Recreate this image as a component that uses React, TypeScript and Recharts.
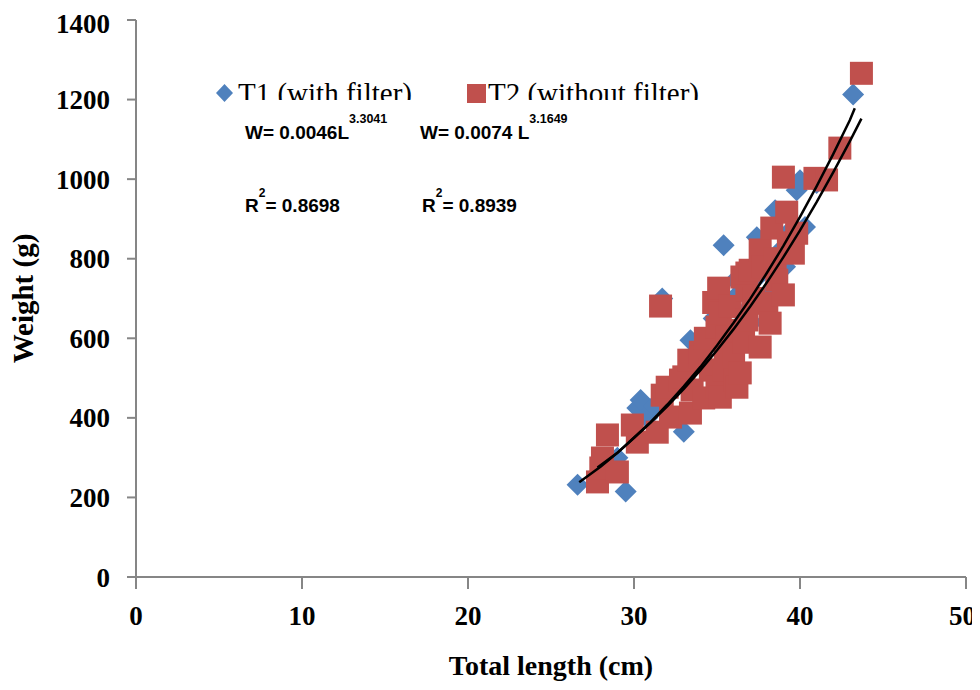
import React from "react";
import { ScatterChart, Scatter, XAxis, YAxis, Legend } from "recharts";

// T1 (with filter) - blue diamonds
const t1Length = [26.6, 29.5, 29.0, 30.2, 30.4, 30.8, 31.2, 31.7, 32.0, 32.5, 33.0, 33.1, 33.4, 33.8, 34.1, 34.5, 34.8, 35.0, 35.2, 35.4, 35.6, 35.8, 36.0, 36.1, 36.5, 36.8, 37.0, 37.4, 37.6, 37.9, 38.0, 38.3, 38.5, 38.8, 39.1, 39.4, 39.8, 40.0, 40.3, 41.0, 43.2];
const t1Weight = [232, 215, 300, 425, 445, 400, 430, 700, 470, 480, 365, 520, 595, 540, 560, 600, 650, 620, 520, 834, 680, 560, 700, 746, 640, 720, 680, 854, 760, 640, 800, 720, 922, 820, 780, 870, 972, 997, 880, 990, 1213];

// T2 (without filter) - red squares
const t2Length = [27.8, 28.0, 28.1, 28.4, 29.0, 29.9, 30.2, 31.4, 31.6, 31.7, 32.0, 32.2, 32.8, 33.0, 33.3, 33.4, 33.5, 34.0, 34.0, 34.2, 34.3, 34.6, 34.8, 35.0, 35.0, 35.1, 35.2, 35.2, 35.4, 35.5, 35.6, 35.8, 36.0, 36.1, 36.2, 36.3, 36.4, 36.5, 36.6, 36.8, 36.8, 36.8, 37.0, 37.2, 37.6, 37.6, 37.8, 38.0, 38.2, 38.3, 38.5, 38.6, 39.0, 39.0, 39.2, 39.3, 39.6, 39.8, 40.9, 41.6, 42.4, 43.7];
const t2Weight = [239, 274, 299, 357, 264, 382, 339, 364, 681, 457, 477, 402, 495, 503, 545, 412, 470, 565, 553, 450, 600, 520, 690, 628, 477, 726, 663, 452, 520, 560, 603, 680, 560, 495, 477, 620, 513, 754, 590, 646, 721, 764, 771, 700, 822, 578, 780, 688, 638, 877, 800, 746, 709, 1005, 917, 840, 814, 864, 1002, 998, 1078, 1266];

// power trend lines
const fit1Length = [26.7, 28, 29, 30, 31, 32, 33, 34, 35, 36, 37, 38, 39, 40, 41, 42, 43, 43.3];
const fit1Weight = [238, 278, 312, 350, 389, 433, 479, 528, 582, 639, 699, 764, 832, 905, 982, 1063, 1148, 1178];
const fit2Length = [27.8, 29, 30, 31, 32, 33, 34, 35, 36, 37, 38, 39, 40, 41, 42, 43, 43.7];
const fit2Weight = [275, 312, 350, 388, 429, 473, 520, 570, 623, 680, 740, 804, 871, 942, 1017, 1095, 1152];

const xTicks = [0, 10, 20, 30, 40, 50];
const yTicks = [0, 200, 400, 600, 800, 1000, 1200, 1400];

const t1 = t1Length.map((x, i) => ({ x, y: t1Weight[i] }));
const t2 = t2Length.map((x, i) => ({ x, y: t2Weight[i] }));
const fit1 = fit1Length.map((x, i) => ({ x, y: fit1Weight[i] }));
const fit2 = fit2Length.map((x, i) => ({ x, y: fit2Weight[i] }));

const BLUE = "#4F81BD";
const RED = "#C0504D";
const AXIS = "#868686";
const serif = "'Liberation Serif', 'Times New Roman', serif";
const sans = "'Liberation Sans', Arial, sans-serif";

const Diamond = (p: any) => (
  <polygon
    points={`${p.cx},${p.cy - 11} ${p.cx + 11},${p.cy} ${p.cx},${p.cy + 11} ${p.cx - 11},${p.cy}`}
    fill={BLUE}
  />
);

const Square = (p: any) => <rect x={p.cx - 11.5} y={p.cy - 11.5} width={23} height={23} fill={RED} />;

const NoDot = () => <g />;

// x tick labels; the last one is pulled in so it stays inside the page
const XTick = (p: any) => {
  const v = p.payload.value;
  const last = v === xTicks[xTicks.length - 1];
  return (
    <text
      x={last ? p.x + 10 : p.x}
      y={p.y}
      textAnchor={last ? "end" : "middle"}
      dy="0.71em"
      fill="#000"
      fontFamily={serif}
      fontWeight="bold"
      fontSize={27}
    >
      {v}
    </text>
  );
};

// legend as in the source figure: text clipped by the box bottom
const renderLegend = () => (
  <svg width={972} height={110} style={{ display: "block" }}>
    <defs>
      <clipPath id="legclip">
        <rect x={0} y={0} width={972} height={92} />
      </clipPath>
    </defs>
    <polygon points="216.5,76 225,85 216.5,94 208,85" fill={BLUE} />
    <rect x={459} y={76} width={19} height={19} fill={RED} />
    <g clipPath="url(#legclip)" fontFamily={serif} fontSize={29} fill="#000">
      <text x={230} y={95}>T1 (with filter)</text>
      <text x={480} y={95}>T2 (without filter)</text>
    </g>
  </svg>
);

const Equations = () => (
  <svg
    width={972}
    height={240}
    style={{ position: "absolute", left: 0, top: 0, pointerEvents: "none" }}
    fontFamily={sans}
    fontWeight="bold"
    fill="#000"
  >
    <text x={237} y={131} fontSize={19}>
      W= 0.0046L
      <tspan dy={-16} fontSize={12.5}>3.3041</tspan>
    </text>
    <text x={412} y={131} fontSize={19}>
      W= 0.0074 L
      <tspan dy={-16} fontSize={12.5}>3.1649</tspan>
    </text>
    <text x={237} y={204} fontSize={19}>
      R<tspan dy={-15} fontSize={12}>2</tspan>
      <tspan dy={15}>= 0.8698</tspan>
    </text>
    <text x={414} y={204} fontSize={19}>
      R<tspan dy={-15} fontSize={12}>2</tspan>
      <tspan dy={15}>= 0.8939</tspan>
    </text>
  </svg>
);

export default function App() {
  return (
    <div style={{ position: "relative", width: 972, height: 674, background: "#fff" }}>
      <style>{"html, body { overflow: hidden; }"}</style>
      <ScatterChart width={972} height={674} margin={{ top: 12, right: 14, bottom: 0, left: 0 }}>
        <XAxis
          type="number"
          dataKey="x"
          domain={[0, 50]}
          ticks={xTicks}
          height={105}
          stroke={AXIS}
          strokeWidth={2}
          tickSize={12}
          tickMargin={17}
          tick={XTick}
          label={{
            value: "Total length (cm)",
            position: "insideBottom",
            offset: 7,
            style: { fill: "#000", fontFamily: serif, fontWeight: "bold", fontSize: 28 },
          }}
        />
        <YAxis
          type="number"
          dataKey="y"
          domain={[0, 1400]}
          ticks={yTicks}
          width={128}
          stroke={AXIS}
          strokeWidth={2}
          tickSize={9}
          tickMargin={17}
          tick={{ fill: "#000", fontFamily: serif, fontWeight: "bold", fontSize: 27 }}
          label={{
            value: "Weight (g)",
            angle: -90,
            position: "insideLeft",
            offset: 15,
            style: { textAnchor: "middle", fill: "#000", fontFamily: serif, fontWeight: "bold", fontSize: 29 },
          }}
        />
        <Legend
          verticalAlign="middle"
          layout="horizontal"
          content={renderLegend}
          wrapperStyle={{ top: 0, left: 0, width: 972, height: 110 }}
        />
        <Scatter name="T1 (with filter)" data={t1} shape={Diamond} isAnimationActive={false} />
        <Scatter name="T2 (without filter)" data={t2} shape={Square} isAnimationActive={false} />
        <Scatter
          data={fit1}
          shape={NoDot}
          line={{ stroke: "#000", strokeWidth: 2.5 }}
          lineType="joint"
          legendType="none"
          isAnimationActive={false}
        />
        <Scatter
          data={fit2}
          shape={NoDot}
          line={{ stroke: "#000", strokeWidth: 2.5 }}
          lineType="joint"
          legendType="none"
          isAnimationActive={false}
        />
      </ScatterChart>
      <Equations />
    </div>
  );
}
